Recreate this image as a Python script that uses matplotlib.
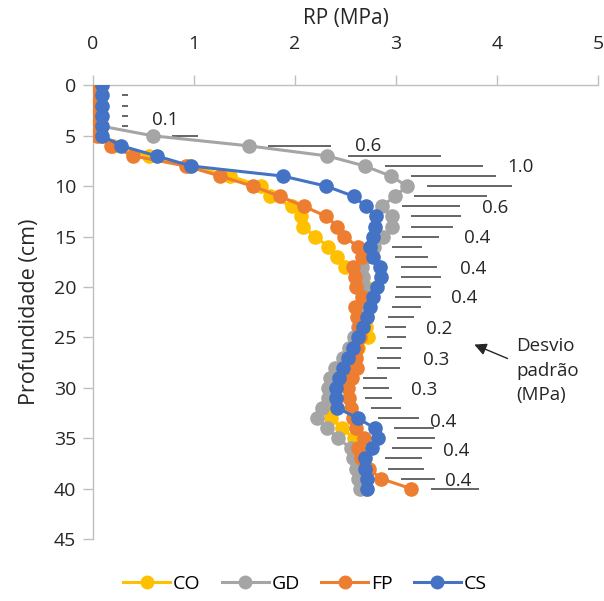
import matplotlib.pyplot as plt
from matplotlib.lines import Line2D

plt.rcParams['font.family'] = ['Open Sans', 'DejaVu Sans']

depth = list(range(0, 41))

co = [0.06, 0.06, 0.06, 0.06, 0.06, 0.08, 0.20, 0.55, 0.95, 1.36,
      1.66, 1.75, 1.97, 2.06, 2.08, 2.20, 2.33, 2.42, 2.50, 2.62,
      2.70, 2.72, 2.70, 2.71, 2.70, 2.72, 2.62, 2.55, 2.50, 2.46,
      2.40, 2.37, 2.36, 2.36, 2.47, 2.58, 2.62, 2.65, 2.66, 2.67, 2.70]
gd = [0.06, 0.06, 0.06, 0.06, 0.06, 0.59, 1.54, 2.32, 2.69, 2.95,
      3.11, 2.99, 2.86, 2.96, 2.96, 2.87, 2.78, 2.70, 2.66, 2.67,
      2.68, 2.68, 2.67, 2.65, 2.62, 2.58, 2.53, 2.48, 2.40, 2.35,
      2.33, 2.33, 2.27, 2.22, 2.32, 2.43, 2.55, 2.57, 2.60, 2.62, 2.64]
fp = [0.01, 0.01, 0.01, 0.01, 0.01, 0.04, 0.18, 0.40, 0.92, 1.26,
      1.58, 1.85, 2.09, 2.31, 2.42, 2.49, 2.62, 2.66, 2.57, 2.59,
      2.60, 2.66, 2.59, 2.61, 2.63, 2.64, 2.61, 2.60, 2.61, 2.56,
      2.52, 2.53, 2.55, 2.57, 2.60, 2.68, 2.62, 2.65, 2.73, 2.85, 3.15]
cs = [0.09, 0.09, 0.09, 0.09, 0.09, 0.09, 0.28, 0.63, 0.97, 1.88,
      2.31, 2.58, 2.70, 2.80, 2.79, 2.77, 2.74, 2.77, 2.84, 2.85,
      2.81, 2.77, 2.74, 2.71, 2.67, 2.62, 2.57, 2.52, 2.48, 2.44,
      2.41, 2.41, 2.42, 2.62, 2.79, 2.82, 2.76, 2.69, 2.69, 2.71, 2.71]

# standard deviation bars (start / end, MPa)
sd_lo = [0.29, 0.29, 0.29, 0.29, 0.29, 0.78, 1.73, 2.52, 2.89, 3.15,
         3.31, 3.18, 3.06, 3.15, 3.15, 3.06, 2.96, 2.99, 3.05, 3.05,
         3.00, 2.99, 2.96, 2.92, 2.89, 2.91, 2.84, 2.81, 2.81, 2.67,
         2.67, 2.69, 2.75, 2.82, 2.98, 3.01, 2.96, 2.89, 2.92, 3.05, 3.35]
sd_hi = [0.35, 0.35, 0.35, 0.35, 0.35, 1.04, 2.36, 3.45, 3.86, 3.99,
         4.15, 3.90, 3.63, 3.64, 3.56, 3.43, 3.26, 3.32, 3.41, 3.45,
         3.35, 3.35, 3.25, 3.18, 3.10, 3.10, 3.06, 3.05, 3.04, 2.91,
         2.93, 2.96, 3.05, 3.23, 3.38, 3.39, 3.36, 3.26, 3.28, 3.39, 3.82]

sd_text = ['0.1', '0.6', '1.0', '0.6', '0.4', '0.4', '0.4', '0.2', '0.3',
           '0.3', '0.4', '0.4', '0.4']
sd_text_x = [0.71, 2.72, 4.23, 3.98, 3.80, 3.76, 3.68, 3.43, 3.40,
             3.28, 3.47, 3.60, 3.62]
sd_text_y = [3.4, 6.0, 8.1, 12.2, 15.1, 18.2, 21.1, 24.2, 27.2,
             30.2, 33.4, 36.3, 39.2]

series = [('CO', co, '#FFC000'), ('GD', gd, '#A5A5A5'),
          ('FP', fp, '#ED7D31'), ('CS', cs, '#4472C4')]

txt = '#262626'

fig = plt.figure(figsize=(6.04, 6.01), dpi=100)
ax = fig.add_axes([0.154, 0.103, 0.836, 0.755])

ax.hlines(depth, sd_lo, sd_hi, color='#595959', lw=1.3, zorder=1)

for name, vals, col in series:
    ax.plot(vals, depth, color=col, lw=2.2, marker='o', ms=9.5,
            label=name, zorder=3)

for t, x, y in zip(sd_text, sd_text_x, sd_text_y):
    ax.text(x, y, t, ha='center', va='center', fontsize=13.5, color=txt)

ax.text(4.19, 28.3, 'Desvio\npadrão\n(MPa)', ha='left', va='center',
        fontsize=13.5, color=txt, linespacing=1.45)
ax.annotate('', xy=(3.75, 25.6), xytext=(4.13, 27.2),
            arrowprops=dict(arrowstyle='-|>', color=txt, lw=1,
                            mutation_scale=18))

ax.set_xlim(0, 5)
ax.set_ylim(45, 0)
ax.set_xticks(range(0, 6))
ax.set_yticks(range(0, 46, 5))
ax.xaxis.tick_top()
ax.xaxis.set_label_position('top')
ax.set_xlabel('RP (MPa)', fontsize=15, color=txt, labelpad=8)
ax.set_ylabel('Profundidade (cm)', fontsize=15.5, color=txt, labelpad=10)
ax.tick_params(axis='both', labelsize=14, colors=txt,
               length=7, width=1, color='#BFBFBF')
ax.tick_params(axis='x', pad=16)
ax.tick_params(axis='y', pad=5)
for s in ['right', 'bottom']:
    ax.spines[s].set_visible(False)
for s in ['top', 'left']:
    ax.spines[s].set_color('#BFBFBF')
    ax.spines[s].set_linewidth(1)

handles = [Line2D([], [], color=c, lw=2.2, marker='o', ms=9) for _, _, c in series]
fig.legend(handles, [n for n, _, _ in series], loc='lower center',
           bbox_to_anchor=(0.505, -0.016), ncol=4, frameon=False, fontsize=14,
           handlelength=2.4, columnspacing=1.1, handletextpad=0.15)

fig.savefig('out.png', dpi=100)
